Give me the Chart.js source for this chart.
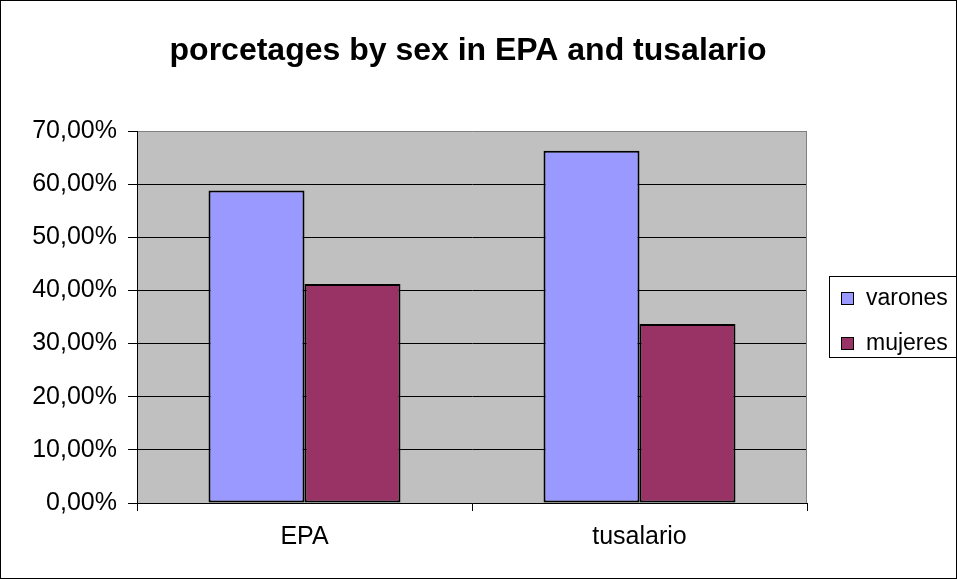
<!DOCTYPE html>
<html>
<head>
<meta charset="utf-8">
<script src="https://cdn.jsdelivr.net/npm/chart.js@4.4.0/dist/chart.umd.min.js"></script>
<style>
html,body{margin:0;padding:0;background:#fff;}
#wrap{width:957px;height:579px;position:relative;}
</style>
</head>
<body>
<div id="wrap"><canvas id="c" width="957" height="579"></canvas></div>
<script>
const titleText = 'porcetages by sex in EPA and tusalario';
const categories = ['EPA', 'tusalario'];
const seriesNames = ['varones', 'mujeres'];
const varones = [58.8, 66.3];
const mujeres = [41.2, 33.7];
const yTickLabels = ['0,00%', '10,00%', '20,00%', '30,00%', '40,00%', '50,00%', '60,00%', '70,00%'];
const seriesColors = ['#9999FF', '#993366'];

const FONT = '"Liberation Sans", Arial, sans-serif';

const decor = {
  id: 'decor',
  beforeDraw(chart) {
    const ctx = chart.ctx, a = chart.chartArea;
    ctx.save();
    ctx.fillStyle = '#fff';
    ctx.fillRect(0, 0, chart.width, chart.height);
    ctx.fillStyle = '#C0C0C0';
    ctx.fillRect(a.left, a.top, a.right - a.left, a.bottom - a.top);
    ctx.restore();
  },
  beforeDatasetsDraw(chart) {
    const ctx = chart.ctx, a = chart.chartArea;
    ctx.save();
    ctx.strokeStyle = '#808080';
    ctx.lineWidth = 1;
    ctx.beginPath();
    ctx.moveTo(Math.round(a.right) - 0.5, a.top);
    ctx.lineTo(Math.round(a.right) - 0.5, a.bottom);
    ctx.stroke();
    ctx.restore();
  },
  afterDraw(chart) {
    const ctx = chart.ctx;
    ctx.save();
    ctx.strokeStyle = '#000';
    ctx.lineWidth = 1;
    ctx.strokeRect(0.5, 0.5, chart.width - 1, chart.height - 1);
    ctx.fillStyle = '#000';
    ctx.font = 'bold 32px ' + FONT;
    ctx.textAlign = 'center';
    ctx.textBaseline = 'alphabetic';
    ctx.fillText(titleText, 468, 60);
    ctx.strokeRect(829.5, 276.5, 127, 81);
    ctx.font = '23px ' + FONT;
    ctx.textAlign = 'left';
    ctx.textBaseline = 'middle';
    chart.data.datasets.forEach((ds, i) => {
      const cy = 298 + i * 45;
      ctx.fillStyle = ds.backgroundColor;
      ctx.fillRect(841, cy - 6, 13, 13);
      ctx.strokeStyle = '#000';
      ctx.strokeRect(841.5, cy - 5.5, 12, 12);
      ctx.fillStyle = '#000';
      ctx.fillText(ds.label, 866, cy + 1);
    });
    ctx.restore();
  }
};

new Chart(document.getElementById('c'), {
  type: 'bar',
  data: {
    labels: categories,
    datasets: [
      { label: seriesNames[0], data: varones, backgroundColor: seriesColors[0], borderColor: '#000', borderWidth: 2, borderSkipped: false },
      { label: seriesNames[1], data: mujeres, backgroundColor: seriesColors[1], borderColor: '#000', borderWidth: 2, borderSkipped: false }
    ]
  },
  options: {
    responsive: false,
    animation: false,
    devicePixelRatio: 1,
    layout: { padding: { top: 131, right: 150, bottom: 0, left: 0 } },
    datasets: { bar: { categoryPercentage: 0.573, barPercentage: 1.0 } },
    plugins: { legend: { display: false }, title: { display: false }, tooltip: { enabled: false } },
    scales: {
      x: {
        offset: true,
        afterFit(s) { s.height = 76; },
        grid: { offset: true, drawOnChartArea: false, color: '#000', tickLength: 8 },
        border: { color: '#000' },
        ticks: { color: '#000', font: { family: FONT, size: 25 }, padding: 11 }
      },
      y: {
        min: 0, max: 70,
        afterFit(s) { s.width = 137; },
        grid: {
          color: (c) => (c.tick && c.tick.value === 70) ? '#808080' : '#000',
          tickColor: '#000',
          tickLength: 9
        },
        border: { color: '#000' },
        ticks: {
          stepSize: 10,
          color: '#000',
          font: { family: FONT, size: 25 },
          padding: 11,
          callback: (v, i) => yTickLabels[i]
        }
      }
    }
  },
  plugins: [decor]
});
</script>
</body>
</html>
